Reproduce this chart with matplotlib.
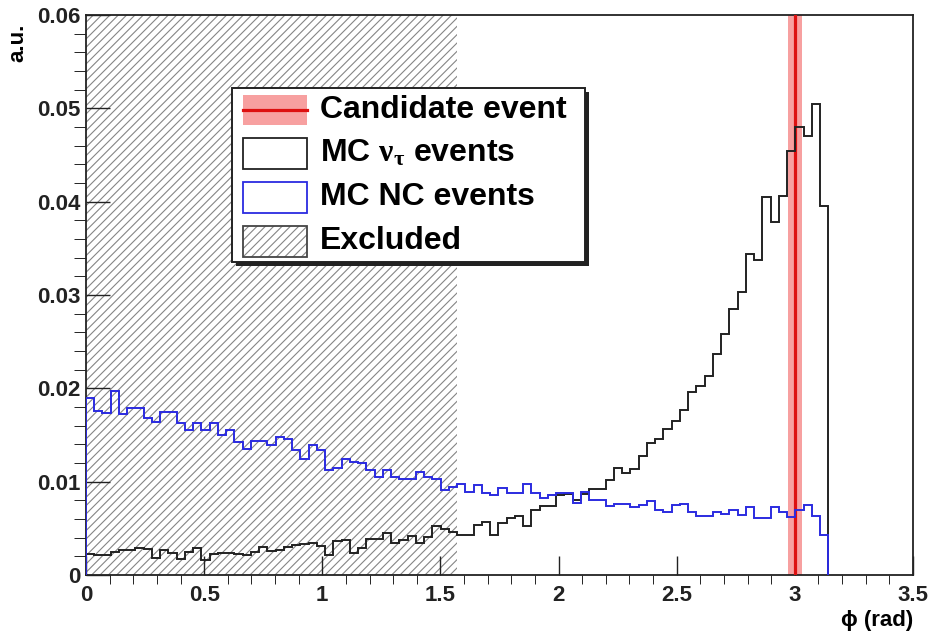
import numpy as np
import matplotlib
matplotlib.use("Agg")
import matplotlib.pyplot as plt
from matplotlib.patches import Rectangle
from matplotlib.lines import Line2D
from matplotlib.ticker import MultipleLocator

# phi distribution, 90 bins of 2 degrees between 0 and pi
nutau = [0.0023, 0.0021, 0.0021, 0.0025, 0.0027, 0.0027, 0.0029, 0.0028, 0.0018, 0.0027,
         0.0024, 0.0017, 0.0025, 0.0029, 0.0016, 0.0023, 0.0024, 0.0024, 0.0023, 0.0021,
         0.0025, 0.0030, 0.0026, 0.0027, 0.0030, 0.0032, 0.0033, 0.0034, 0.0031, 0.0021,
         0.0036, 0.0037, 0.0024, 0.0029, 0.0039, 0.0039, 0.0045, 0.0034, 0.0038, 0.0042,
         0.0034, 0.0041, 0.0052, 0.0049, 0.0046, 0.0043, 0.0043, 0.0054, 0.0057, 0.0043,
         0.0056, 0.0061, 0.0063, 0.0052, 0.0070, 0.0074, 0.0074, 0.0086, 0.0087, 0.0080,
         0.0087, 0.0092, 0.0092, 0.0102, 0.0115, 0.0109, 0.0114, 0.0127, 0.0141, 0.0146,
         0.0156, 0.0165, 0.0177, 0.0196, 0.0203, 0.0213, 0.0237, 0.0258, 0.0285, 0.0303,
         0.0344, 0.0338, 0.0405, 0.0378, 0.0406, 0.0454, 0.0480, 0.0470, 0.0505, 0.0395]

nc = [0.0190, 0.0176, 0.0174, 0.0197, 0.0173, 0.0179, 0.0179, 0.0168, 0.0164, 0.0175,
      0.0175, 0.0163, 0.0155, 0.0163, 0.0155, 0.0163, 0.0150, 0.0155, 0.0143, 0.0135,
      0.0144, 0.0144, 0.0139, 0.0148, 0.0146, 0.0134, 0.0124, 0.0139, 0.0134, 0.0112,
      0.0115, 0.0124, 0.0121, 0.0120, 0.0113, 0.0105, 0.0113, 0.0105, 0.0103, 0.0103,
      0.0110, 0.0105, 0.0103, 0.0091, 0.0094, 0.0097, 0.0089, 0.0096, 0.0088, 0.0086,
      0.0093, 0.0088, 0.0088, 0.0098, 0.0088, 0.0082, 0.0086, 0.0088, 0.0088, 0.0077,
      0.0089, 0.0080, 0.0080, 0.0074, 0.0076, 0.0076, 0.0073, 0.0075, 0.0079, 0.0070,
      0.0067, 0.0075, 0.0076, 0.0068, 0.0063, 0.0063, 0.0067, 0.0065, 0.0070, 0.0064,
      0.0073, 0.0061, 0.0061, 0.0073, 0.0068, 0.0062, 0.0070, 0.0075, 0.0063, 0.0043]

phi_lo, phi_hi, n_bins = 0.0, np.pi, 90
excl_lo, excl_hi = 0.0, np.pi / 2
cand_phi, cand_err = 3.0, 0.03

xticks = [0, 0.5, 1, 1.5, 2, 2.5, 3, 3.5]
xtick_labels = ["0", "0.5", "1", "1.5", "2", "2.5", "3", "3.5"]
yticks = [0, 0.01, 0.02, 0.03, 0.04, 0.05, 0.06]
ytick_labels = ["0", "0.01", "0.02", "0.03", "0.04", "0.05", "0.06"]
legend_labels = ["Candidate event", r"MC $\mathrm{\nu}_{\mathrm{\tau}}$ events", "MC NC events", "Excluded"]

plt.rcParams['font.family'] = ['Liberation Sans', 'DejaVu Sans']
plt.rcParams['font.weight'] = 'bold'
plt.rcParams['mathtext.fontset'] = 'custom'
plt.rcParams['mathtext.rm'] = 'Liberation Serif'
plt.rcParams['mathtext.it'] = 'Liberation Serif:italic'
plt.rcParams['mathtext.bf'] = 'Liberation Serif:bold'
plt.rcParams['hatch.linewidth'] = 0.8

black = '#222222'
blue = '#2b2be0'
hatch_col = '#858585'

fig = plt.figure(figsize=(9.33, 6.4), dpi=100)
ax = fig.add_axes([86 / 933, 65 / 640, 827 / 933, 560 / 640])

edges = np.linspace(phi_lo, phi_hi, n_bins + 1)

ax.axvspan(excl_lo, excl_hi, facecolor='none', edgecolor=hatch_col, hatch='////', linewidth=0, zorder=1)
ax.axvspan(cand_phi - cand_err, cand_phi + cand_err, color='#f7a0a0', linewidth=0, zorder=2)
ax.axvline(cand_phi, color='#dd1010', linewidth=2.3, zorder=3)
ax.stairs(nutau, edges, color=black, linewidth=1.4, zorder=4)
ax.stairs(nc, edges, color=blue, linewidth=1.4, zorder=4)

ax.set_xlim(0, 3.5)
ax.set_ylim(0, 0.06)
ax.set_xticks(xticks, xtick_labels)
ax.set_yticks(yticks, ytick_labels)
ax.xaxis.set_minor_locator(MultipleLocator(0.1))
ax.yaxis.set_minor_locator(MultipleLocator(0.002))
ax.tick_params(direction='in', top=False, right=False, labelsize=16, width=1.0, colors=black)
ax.tick_params(axis='x', which='major', length=14, pad=7)
ax.tick_params(axis='x', which='minor', length=6.5)
ax.tick_params(axis='y', which='major', length=17, pad=4)
ax.tick_params(axis='y', which='minor', length=8.5)
for sp in ax.spines.values():
    sp.set_linewidth(1.3)
    sp.set_color(black)

ax.set_xlabel('\u03d5 (rad)', loc='right', fontsize=16, fontweight='bold', labelpad=3)
ax.set_ylabel('a.u.', loc='top', fontsize=16, fontweight='bold')
ax.yaxis.set_label_coords(-0.07, 0.985)

# legend box with shadow
lx, ly, lw, lh = 0.1765, 0.5589, 0.4269, 0.3107
ax.add_patch(Rectangle((lx + 0.005, ly - 0.007), lw, lh, transform=ax.transAxes,
                       facecolor=black, linewidth=0, zorder=9))
ax.add_patch(Rectangle((lx, ly), lw, lh, transform=ax.transAxes,
                       facecolor='white', edgecolor=black, linewidth=1.4, zorder=10))

sx, sw, sh = 0.1898, 0.0774, 0.0554
rows = [0.8304, 0.7525, 0.6745, 0.5964]

ax.add_patch(Rectangle((sx, rows[0] - 0.026), sw, 0.052, transform=ax.transAxes,
                       facecolor='#f7a0a0', linewidth=0, zorder=11))
ax.add_line(Line2D([sx, sx + sw], [rows[0], rows[0]], transform=ax.transAxes,
                   color='#dd1010', linewidth=2.3, zorder=12))
ax.add_patch(Rectangle((sx, rows[1] - sh / 2), sw, sh, transform=ax.transAxes,
                       facecolor='white', edgecolor=black, linewidth=1.3, zorder=11))
ax.add_patch(Rectangle((sx, rows[2] - sh / 2), sw, sh, transform=ax.transAxes,
                       facecolor='white', edgecolor=blue, linewidth=1.3, zorder=11))
ax.add_patch(Rectangle((sx, rows[3] - sh / 2), sw, sh, transform=ax.transAxes,
                       facecolor='white', edgecolor=hatch_col, hatch='////', linewidth=0, zorder=11))
ax.add_patch(Rectangle((sx, rows[3] - sh / 2), sw, sh, transform=ax.transAxes,
                       facecolor='none', edgecolor='#444444', linewidth=1.3, zorder=12))

for yc, lab in zip(rows, legend_labels):
    ax.text(0.283, yc, lab, transform=ax.transAxes, va='center', ha='left',
            fontsize=23, fontweight='bold', color='black', zorder=13)

fig.savefig('out.png', dpi=100)
